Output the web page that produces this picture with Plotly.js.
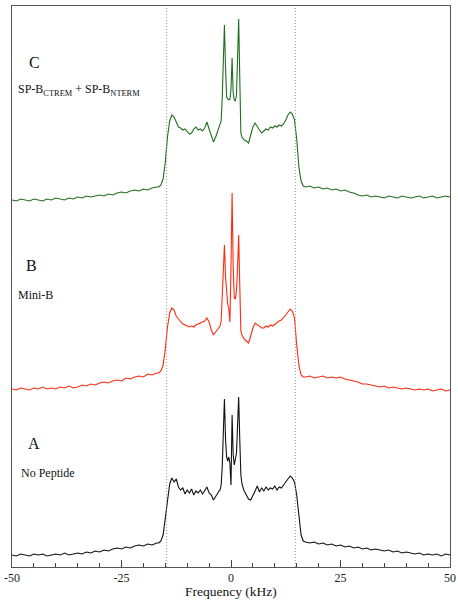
<!DOCTYPE html>
<html><head><meta charset="utf-8">
<script src="https://cdn.plot.ly/plotly-3.0.1.min.js"></script>
<style>html,body{margin:0;padding:0;background:#fff;}#chart{width:458px;height:600px;}</style>
</head><body><div id="chart"></div>
<script>
// Frequency axis (kHz)
const freq = [-50,-49,-48,-47,-46,-45,-44,-43,-42,-41,-40,-39,-38,-37,-36,-35,-34,-33,-32,-31,-30,-29,-28,-27,-26,-25,-24,-23,-22,-21,-20,-19,-18,-17,
-16.5,-16,-15.5,-15,-14.5,-14,-13.5,-13,-12.5,-12,-11.5,-11,-10.5,-10,-9.5,-9,-8.5,-8,-7.5,-7,-6.5,-6,-5.5,-5,-4.5,-4,-3.5,-3,
-2.75,-2.5,-2.25,-2,-1.75,-1.5,-1.25,-1,-0.75,-0.5,-0.25,0,0.25,0.5,0.75,1,1.25,1.5,1.75,2,2.25,2.5,2.75,
3,3.5,4,4.5,5,5.5,6,6.5,7,7.5,8,8.5,9,9.5,10,10.5,11,11.5,12,12.5,13,13.5,14,14.5,15,15.5,16,16.5,
17,18,19,20,21,22,23,24,25,26,27,28,29,30,31,32,33,34,35,36,37,38,39,40,41,42,43,44,45,46,47,48,49,50];

// A: No Peptide (black)
const specA = [12,11,13,12,11,13,12,13,11,12,13,12,14,12,13,14,13,15,14,16,15,17,16,18,19,18,20,19,21,22,21,23,22,24,
24,26,32,48,68,83,89,85,88,80,77,79,73,77,74,78,72,76,74,77,73,76,80,74,72,67,70,74,
76,77,82,100,135,168,128,110,106,110,104,82,152,112,102,108,114,142,170,128,92,83,79,
76,72,68,67,71,76,81,75,79,76,80,77,79,78,81,77,80,79,82,85,89,91,89,85,72,48,32,26,
25,24,25,23,24,22,23,21,22,20,21,19,20,18,19,17,18,17,16,17,15,16,14,15,14,13,14,12,13,12,13,11,13,12];

// B: Mini-B (red)
const specB = [178,177,179,178,177,179,178,180,178,179,178,180,179,181,179,180,182,181,183,182,184,185,184,186,187,186,189,188,190,191,190,193,192,194,
194,196,202,218,240,254,259,257,251,248,245,243,242,241,240,241,240,242,243,244,245,246,249,245,237,232,235,238,
240,241,246,270,300,322,290,270,263,258,245,300,374,300,269,268,276,300,332,282,236,232,230,
228,226,224,231,239,244,242,240,239,239,241,240,242,241,243,244,246,247,249,252,255,258,256,249,222,202,192,190,
190,191,189,190,191,189,190,189,190,188,187,186,185,183,183,182,181,180,181,179,180,179,178,179,178,177,178,177,178,176,177,178,176,177];

// C: SP-B CTREM + SP-B NTERM (green)
const specC = [367,366,368,367,366,368,367,366,368,367,369,368,367,369,368,370,369,371,370,371,372,371,373,372,374,375,374,376,377,376,378,377,379,380,
380,382,388,405,430,446,452,450,444,440,439,437,438,436,433,434,438,440,437,438,436,439,445,438,431,425,430,436,
439,441,446,470,510,542,500,470,468,467,468,478,509,474,467,466,472,510,548,490,434,430,428,
427,426,424,432,440,444,440,437,434,436,438,437,440,439,441,440,442,441,443,447,452,455,453,447,428,400,386,381,
380,381,379,380,378,379,377,378,376,377,375,374,372,371,372,370,371,370,369,371,370,369,371,370,369,370,371,369,370,371,369,370,371,370];

const tickVals = [-50,-25,0,25,50];
const tickText = ['-50','-25','0','25','50'];
const markerLines = [-14.7, 14.7];

const W = 458, H = 600, ML = 12, MR = 8, MT = 6, MB = 33;
const pw = W - ML - MR, ph = H - MT - MB;
function P(px, py){ return {x:(px-ML)/pw, y:(H-MB-py)/ph}; }

const serif = 'Liberation Serif, Times New Roman, serif';
const traces = [
  {x:freq, y:specC, mode:'lines', line:{color:'#1f6f1f', width:1.1}, hoverinfo:'skip'},
  {x:freq, y:specB, mode:'lines', line:{color:'#ff2a10', width:1.1}, hoverinfo:'skip'},
  {x:freq, y:specA, mode:'lines', line:{color:'#111111', width:1.1}, hoverinfo:'skip'}
];

function ann(text, px, py, size, anchor, vanchor){
  const p = P(px, py);
  return {xref:'paper', yref:'paper', x:p.x, y:p.y, xanchor:anchor||'left', yanchor:vanchor||'middle',
    text:text, showarrow:false, font:{family:serif, size:size, color:'#111'}};
}
const titleAnn = Object.assign(ann('Frequency (kHz)', 231, 600, 13.5, 'center', 'bottom'), {height:14, valign:'bottom', borderpad:0});

const layout = {
  width:W, height:H, margin:{l:ML, r:MR, t:MT, b:MB}, showlegend:false,
  paper_bgcolor:'#fff', plot_bgcolor:'#fff',
  xaxis:{range:[-50,50], showline:true, mirror:true, linecolor:'#555', linewidth:1,
    ticks:'inside', ticklen:7, tickcolor:'#444', tickvals:tickVals, ticktext:tickText,
    minor:{dtick:5, ticks:'inside', ticklen:4, tickcolor:'#444'},
    showgrid:false, zeroline:false, automargin:false,
    tickfont:{family:serif, size:12, color:'#222'}},
  yaxis:{range:[0,561], showline:true, mirror:true, linecolor:'#555', linewidth:1,
    showticklabels:false, ticks:'', showgrid:false, zeroline:false, automargin:false},
  shapes: markerLines.map(v => ({type:'line', xref:'x', yref:'paper', x0:v, x1:v, y0:0, y1:1,
    line:{color:'#999', width:1, dash:'1px,2px'}})),
  annotations:[
    titleAnn,
    ann('C', 27, 63, 16),
    ann('SP-B<sub>CTREM</sub> + SP-B<sub>NTERM</sub>', 16, 90, 12),
    ann('B', 24, 265, 16),
    ann('Mini-B', 16, 295, 12),
    ann('A', 26, 443, 16),
    ann('No Peptide', 19, 473, 12)
  ]
};
Plotly.newPlot('chart', traces, layout, {displayModeBar:false, staticPlot:true});
</script></body></html>
